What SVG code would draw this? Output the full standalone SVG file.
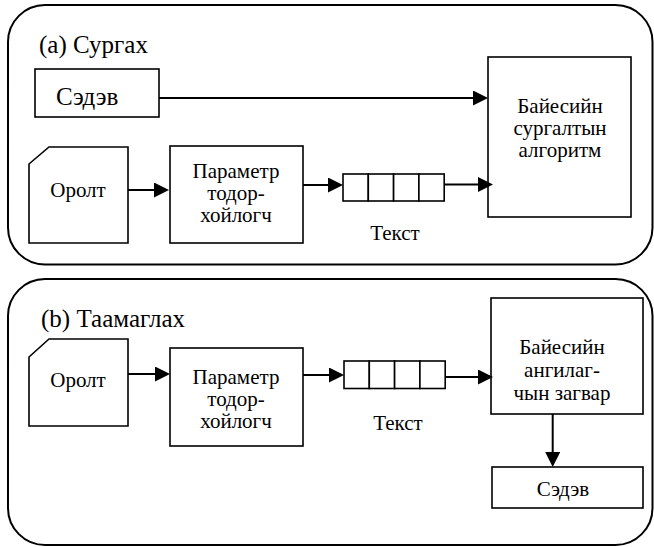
<svg xmlns="http://www.w3.org/2000/svg" width="654" height="547" viewBox="0 0 654 547">
  <defs>
    <marker id="arrow" markerUnits="userSpaceOnUse" markerWidth="15" markerHeight="15" refX="11" refY="7.5" orient="auto">
      <path d="M0,0 L15,7.5 L0,15 Z" fill="#000"/>
    </marker>
  </defs>
  <style>
    .panel { fill: #fff; stroke: #000; stroke-width: 2; }
    .box { fill: #fff; stroke: #000; stroke-width: 1.6; }
    .edge { fill: none; stroke: #000; stroke-width: 2; marker-end: url(#arrow); }
    .txt { font-family: "Liberation Serif", "Times New Roman", Times, Tinos, "Noto Serif", "DejaVu Serif", FreeSerif, serif; fill: #000; }
    .title { font-size: 25px; }
    .lbl { font-size: 21px; text-anchor: middle; }
  </style>

  <rect fill="#fff" x="0" y="0" width="654" height="547"/>

  <g class="txt">
  <!-- panel (a): training -->
  <g id="panel-train">
    <rect class="panel" x="8" y="5" width="644.5" height="259.5" rx="37" ry="37"/>
    <text class="title" x="39" y="53">(a) Сургах</text>
  </g>

  <!-- panel (b): prediction -->
  <g id="panel-predict">
    <rect class="panel" x="8" y="279" width="644.5" height="266" rx="37" ry="37"/>
    <text class="title" x="41" y="327">(b) Таамаглах</text>
  </g>

  <!-- training flow nodes -->
  <g id="a-topic">
    <rect class="box" x="35" y="69" width="124" height="48"/>
    <text class="title" x="56" y="105">Сэдэв</text>
  </g>
  <g id="a-input">
    <path class="box" d="M29,164 L49,147 L128,147 L128,243 L29,243 Z"/>
    <text class="lbl" x="78" y="197">Оролт</text>
  </g>
  <g id="a-param">
    <rect class="box" x="170" y="146" width="133" height="97"/>
    <text class="lbl" x="236" y="178">Параметр</text>
    <text class="lbl" x="236" y="200">тодор-</text>
    <text class="lbl" x="236" y="222">хойлогч</text>
  </g>
  <g id="a-text">
    <rect class="box" x="343" y="174" width="25.3" height="27"/>
    <rect class="box" x="368.3" y="174" width="25.3" height="27"/>
    <rect class="box" x="393.6" y="174" width="25.3" height="27"/>
    <rect class="box" x="418.9" y="174" width="25.3" height="27"/>
    <text class="lbl" x="395" y="240">Текст</text>
  </g>
  <g id="a-learner">
    <rect class="box" x="488" y="57" width="143" height="160"/>
    <text class="lbl" x="560" y="113">Байесийн</text>
    <text class="lbl" x="560" y="135">сургалтын</text>
    <text class="lbl" x="560" y="157">алгоритм</text>
  </g>

  <!-- prediction flow nodes -->
  <g id="b-input">
    <path class="box" d="M29,357 L49,339 L128,339 L128,426 L29,426 Z"/>
    <text class="lbl" x="78" y="387">Оролт</text>
  </g>
  <g id="b-param">
    <rect class="box" x="170" y="348" width="133" height="98"/>
    <text class="lbl" x="236" y="384">Параметр</text>
    <text class="lbl" x="236" y="406">тодор-</text>
    <text class="lbl" x="236" y="428">хойлогч</text>
  </g>
  <g id="b-text">
    <rect class="box" x="344" y="361" width="25.3" height="27.5"/>
    <rect class="box" x="369.3" y="361" width="25.3" height="27.5"/>
    <rect class="box" x="394.6" y="361" width="25.3" height="27.5"/>
    <rect class="box" x="419.9" y="361" width="25.3" height="27.5"/>
    <text class="lbl" x="398" y="430">Текст</text>
  </g>
  <g id="b-classifier">
    <rect class="box" x="491" y="298" width="152" height="116"/>
    <text class="lbl" x="562" y="354">Байесийн</text>
    <text class="lbl" x="562" y="377">ангилаг-</text>
    <text class="lbl" x="562" y="400">чын загвар</text>
  </g>
  <g id="b-topic">
    <rect class="box" x="492" y="467" width="151" height="41"/>
    <text class="lbl" x="563" y="496">Сэдэв</text>
  </g>
  </g>

  <!-- connectors -->
  <g id="connectors">
    <line class="edge" x1="159" y1="98" x2="484" y2="98"/>
    <line class="edge" x1="128" y1="190" x2="165" y2="190"/>
    <line class="edge" x1="303" y1="185" x2="339" y2="185"/>
    <line class="edge" x1="444" y1="184.5" x2="489" y2="184.5"/>
    <line class="edge" x1="128" y1="374" x2="166" y2="374"/>
    <line class="edge" x1="303" y1="375" x2="340" y2="375"/>
    <line class="edge" x1="445" y1="377" x2="489" y2="377"/>
    <line class="edge" x1="552.7" y1="414" x2="552.7" y2="463"/>
  </g>
</svg>
